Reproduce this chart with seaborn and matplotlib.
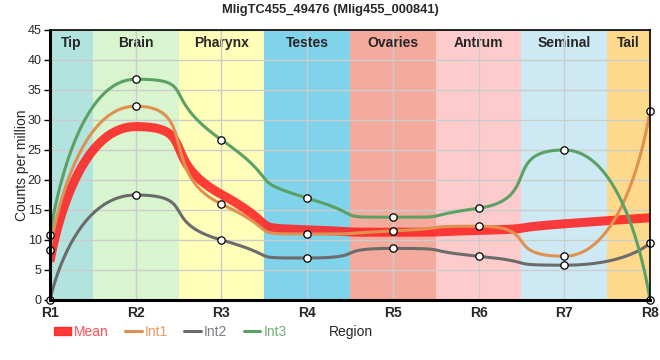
import numpy as np
import pandas as pd
import matplotlib
matplotlib.use('Agg')
import matplotlib.pyplot as plt
from matplotlib.patches import Rectangle
from matplotlib.lines import Line2D
import seaborn as sns

# values
regions = ['R1', 'R2', 'R3', 'R4', 'R5', 'R6', 'R7', 'R8']
mean_vals = [6.4, 28.9, 17.6, 11.7, 11.3, 11.6, 12.7, 13.7]
int1_vals = [8.4, 32.3, 16.0, 11.0, 11.5, 12.3, 7.3, 31.5]
int2_vals = [0.0, 17.5, 10.0, 7.0, 8.6, 7.3, 5.8, 9.5]
int3_vals = [10.8, 36.8, 26.7, 17.0, 13.8, 15.3, 25.0, 0.0]

tissues = ['Tip', 'Brain', 'Pharynx', 'Testes', 'Ovaries', 'Antrum', 'Seminal', 'Tail']
tissue_colors = ['#b3e3df', '#d8f5d0', '#ffffb9', '#7fd3eb', '#f4ab9d', '#fdcbcb', '#cdeaf4', '#fed98b']

series_colors = {'Mean': '#ff2222', 'Int1': '#e0904f', 'Int2': '#6b6b6b', 'Int3': '#5ba165'}
text_colors = {'Mean': '#ff4d55', 'Int1': '#e89a62', 'Int2': '#7c7c88', 'Int3': '#6cae78'}


def spline(y, a=0.75, n=50):
    # bezier spline through the points, control points a step away, no false extremes
    y = np.asarray(y, dtype=float)
    k = len(y)
    lc = [None] * k
    rc = [None] * k
    for i in range(1, k - 1):
        last, cur, nxt = y[i - 1], y[i], y[i + 1]
        slope = (nxt - last) / 2
        l = cur - a * slope
        r = cur + a * slope
        if l > last and l > cur:
            l = max(last, cur)
            r = 2 * cur - l
        elif l < last and l < cur:
            l = min(last, cur)
            r = 2 * cur - l
        if r > nxt and r > cur:
            r = max(nxt, cur)
            l = 2 * cur - r
        elif r < nxt and r < cur:
            r = min(nxt, cur)
            l = 2 * cur - r
        lc[i] = (i - a, l)
        rc[i] = (i + a, r)
    rc[0] = (0, y[0])
    lc[k - 1] = (k - 1, y[k - 1])
    u = np.linspace(0, 1, n)[:, None]
    xs, ys = [], []
    for i in range(k - 1):
        p0 = np.array([i, y[i]])
        p1 = np.array(rc[i])
        p2 = np.array(lc[i + 1])
        p3 = np.array([i + 1, y[i + 1]])
        b = (1 - u) ** 3 * p0 + 3 * (1 - u) ** 2 * u * p1 + 3 * (1 - u) * u ** 2 * p2 + u ** 3 * p3
        xs.extend(b[:, 0])
        ys.extend(b[:, 1])
    return np.array(xs), np.array(ys)


sns.set_style('white')
plt.rcParams['font.family'] = ['Liberation Sans', 'DejaVu Sans']

fig = plt.figure(figsize=(6.6, 3.6), dpi=100)
ax = fig.add_axes([50 / 660, 60 / 360, 600 / 660, 270 / 360])

# tissue bands
last = len(regions) - 1
for i, (name, col) in enumerate(zip(tissues, tissue_colors)):
    x0, x1 = max(i - 0.5, 0), min(i + 0.5, last)
    ax.axvspan(x0, x1, color=col, lw=0, zorder=0)
    ax.text((x0 + x1) / 2, 44.0, name, ha='center', va='top', fontsize=10,
            fontweight='bold', zorder=1)

for yv in range(5, 46, 5):
    ax.axhline(yv, color='#cccccc', lw=1, zorder=1)
for xv in range(1, len(regions)):
    ax.axvline(xv, color='#cccccc', lw=1, zorder=1)

series = [('Mean', mean_vals, 6.5, 0.88), ('Int1', int1_vals, 2.2, 1.0),
          ('Int2', int2_vals, 2.2, 1.0), ('Int3', int3_vals, 2.2, 1.0)]
for name, vals, lw, al in series:
    xs, ys = spline(vals)
    df = pd.DataFrame({'x': xs, 'y': ys})
    sns.lineplot(data=df, x='x', y='y', color=series_colors[name], lw=lw, alpha=al,
                 ax=ax, sort=False, estimator=None, zorder=3, solid_capstyle='butt')
    if name != 'Mean':
        pts = pd.DataFrame({'x': np.arange(len(vals)), 'y': vals})
        sns.scatterplot(data=pts, x='x', y='y', s=28, facecolor='white', edgecolor='black',
                        linewidth=0.9, ax=ax, zorder=5, clip_on=False, legend=False)

ax.set_xlim(0, last)
ax.set_ylim(0, 45)
ax.set_xticks(range(len(regions)))
ax.set_xticklabels(regions, fontsize=10, fontweight='bold')
ax.set_yticks(range(0, 46, 5))
ax.tick_params(axis='y', labelsize=9, length=4, width=1, color='black', left=True, pad=2)
ax.tick_params(axis='x', length=0, pad=4)
for side in ['left', 'bottom']:
    ax.spines[side].set_linewidth(2.2)
for side in ['top', 'right']:
    ax.spines[side].set_linewidth(1.2)
for sp in ax.spines.values():
    sp.set_color('black')
    sp.set_zorder(6)

ax.set_ylabel('Counts per million', fontsize=10, labelpad=-1)
ax.set_xlabel('')
fig.text(351 / 660, 1 - 332 / 360, 'Region', ha='center', va='center', fontsize=10)

handles = [Rectangle((0, 0), 1, 1, color=series_colors['Mean'], alpha=0.9)]
handles += [Line2D([], [], color=series_colors[n], lw=2.2) for n in ['Int1', 'Int2', 'Int3']]
labels = ['Mean', 'Int1', 'Int2', 'Int3']
leg = fig.legend(handles, labels, loc='center left', bbox_to_anchor=(54 / 660, 1 - 332 / 360),
                 ncol=4, frameon=False, fontsize=10, handlelength=1.2, handleheight=0.55,
                 handletextpad=0.25, columnspacing=1.15, borderpad=0, borderaxespad=0)
for t, n in zip(leg.get_texts(), labels):
    t.set_color(text_colors[n])

fig.suptitle('MligTC455_49476 (Mlig455_000841)', x=0.5, y=1 - 10 / 360, va='center',
             fontsize=9.3, fontweight='bold')

fig.savefig('out.png', dpi=100)
